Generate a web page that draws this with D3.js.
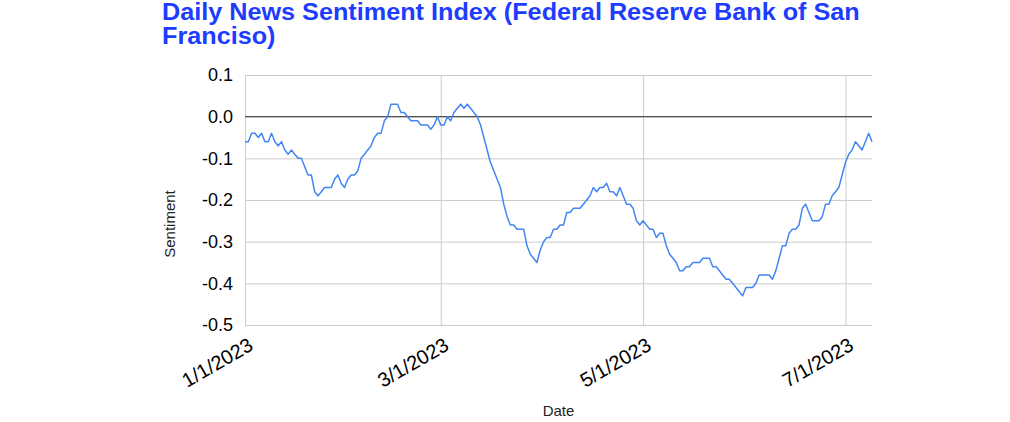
<!DOCTYPE html>
<html>
<head>
<meta charset="utf-8">
<script src="https://cdn.jsdelivr.net/npm/d3@7"></script>
<style>
  html, body { margin: 0; padding: 0; background: #fff; }
  svg { display: block; font-family: Arial, "Liberation Sans", sans-serif; }
</style>
</head>
<body>
<svg id="chart" width="1010" height="422"></svg>
<script>
// ---- data ----
const startDate = "2023-01-01"; // first daily observation
const sentiment = [
  -0.06,-0.06,-0.04,-0.04,-0.05,-0.04,-0.06,-0.06,-0.04,-0.06,
  -0.07,-0.06,-0.08,-0.09,-0.08,-0.09,-0.10,-0.10,-0.12,-0.14,
  -0.14,-0.18,-0.19,-0.18,-0.17,-0.17,-0.17,-0.15,-0.14,-0.16,
  -0.17,-0.15,-0.14,-0.14,-0.13,-0.10,-0.09,-0.08,-0.07,-0.05,
  -0.04,-0.04,-0.01,0.00,0.03,0.03,0.03,0.01,0.01,0.00,
  -0.01,-0.01,-0.01,-0.02,-0.02,-0.02,-0.03,-0.02,0.00,-0.02,
  -0.02,0.00,-0.01,0.01,0.02,0.03,0.02,0.03,0.02,0.01,
  0.00,-0.02,-0.05,-0.08,-0.11,-0.13,-0.15,-0.17,-0.21,-0.24,
  -0.26,-0.26,-0.27,-0.27,-0.27,-0.31,-0.33,-0.34,-0.35,-0.32,
  -0.30,-0.29,-0.29,-0.27,-0.27,-0.26,-0.26,-0.23,-0.23,-0.22,
  -0.22,-0.22,-0.21,-0.20,-0.19,-0.17,-0.18,-0.17,-0.17,-0.16,
  -0.18,-0.18,-0.19,-0.17,-0.19,-0.21,-0.21,-0.22,-0.25,-0.26,
  -0.25,-0.26,-0.27,-0.27,-0.29,-0.28,-0.28,-0.31,-0.33,-0.34,
  -0.35,-0.37,-0.37,-0.36,-0.36,-0.35,-0.35,-0.35,-0.34,-0.34,
  -0.34,-0.36,-0.36,-0.37,-0.38,-0.39,-0.39,-0.40,-0.41,-0.42,
  -0.43,-0.41,-0.41,-0.41,-0.40,-0.38,-0.38,-0.38,-0.38,-0.39,
  -0.37,-0.34,-0.31,-0.31,-0.28,-0.27,-0.27,-0.26,-0.22,-0.21,
  -0.23,-0.25,-0.25,-0.25,-0.24,-0.21,-0.21,-0.19,-0.18,-0.17,
  -0.14,-0.11,-0.09,-0.08,-0.06,-0.07,-0.08,-0.06,-0.04,-0.06
];
const xTickDates = ["2023-01-01","2023-03-01","2023-05-01","2023-07-01"];
const xTickLabels = ["1/1/2023","3/1/2023","5/1/2023","7/1/2023"];
const yTicks = [0.1, 0.0, -0.1, -0.2, -0.3, -0.4, -0.5];
const yTickLabels = ["0.1","0.0","-0.1","-0.2","-0.3","-0.4","-0.5"];
const titleLines = ["Daily News Sentiment Index (Federal Reserve Bank of San", "Franciso)"];
const xTitle = "Date";
const yTitle = "Sentiment";

// ---- build ----
const parse = d3.utcParse("%Y-%m-%d");
const t0 = parse(startDate);
const data = sentiment.map((v, i) => ({ date: d3.utcDay.offset(t0, i), value: v }));

const L = 245, R = 872, T = 75, B = 325;
const x = d3.scaleUtc().domain([t0, data[data.length - 1].date]).range([L, R]);
const y = d3.scaleLinear().domain([-0.5, 0.1]).range([B, T]);

const svg = d3.select("#chart");

// title (glyphs widened horizontally so line 1 spans to ~860px like the reference)
const title = svg.append("text")
  .attr("fill", "#1c3cff").attr("font-weight", "bold").attr("font-size", 23);
const tspans = title.selectAll("tspan").data(titleLines).join("tspan")
  .attr("x", 0).attr("y", (d, i) => 20 + i * 24)
  .text(d => d);
const natural = tspans.node().getComputedTextLength();
const sx = (860 - 162) / natural;
title.attr("transform", `translate(162,0) scale(${sx},1)`);

// horizontal gridlines
const yAxis = d3.axisLeft(y).tickValues(yTicks).tickSize(-(R - L))
  .tickFormat((d, i) => yTickLabels[i]);
const gy = svg.append("g").attr("transform", `translate(${L},0)`).call(yAxis);
gy.select(".domain").remove();
gy.selectAll(".tick line").attr("stroke", "#cccccc").attr("stroke-width", 1);
gy.selectAll(".tick text").attr("x", -12).attr("font-size", 18).attr("fill", "#000")
  .attr("font-family", "Arial, 'Liberation Sans', sans-serif");

// vertical gridlines
const xTicks = xTickDates.map(parse);
const xAxis = d3.axisBottom(x).tickValues(xTicks).tickSize(-(B - T)).tickFormat((d, i) => xTickLabels[i]);
const gx = svg.append("g").attr("transform", `translate(0,${B})`).call(xAxis);
gx.select(".domain").remove();
gx.selectAll(".tick line").attr("stroke", "#cccccc").attr("stroke-width", 1);
gx.selectAll(".tick text")
  .attr("font-size", 20).attr("fill", "#000")
  .attr("font-family", "Arial, 'Liberation Sans', sans-serif")
  .attr("text-anchor", "end")
  .attr("x", 0).attr("y", 0).attr("dy", 0)
  .attr("transform", "translate(9,24) rotate(-30)");

// zero baseline
svg.append("line")
  .attr("x1", L).attr("x2", R).attr("y1", y(0)).attr("y2", y(0))
  .attr("stroke", "#333333").attr("stroke-width", 1);

// line
svg.append("path").datum(data)
  .attr("fill", "none").attr("stroke", "#4285f4").attr("stroke-width", 1.5)
  .attr("stroke-linejoin", "round")
  .attr("d", d3.line().x(d => x(d.date)).y(d => y(d.value)));

// axis titles
svg.append("text").attr("x", (L + R) / 2).attr("y", 416)
  .attr("text-anchor", "middle").attr("font-size", 15).attr("fill", "#222").text(xTitle);
svg.append("text").attr("transform", "translate(175,224) rotate(-90)")
  .attr("text-anchor", "middle").attr("font-size", 15).attr("fill", "#222").text(yTitle);
</script>
</body>
</html>
